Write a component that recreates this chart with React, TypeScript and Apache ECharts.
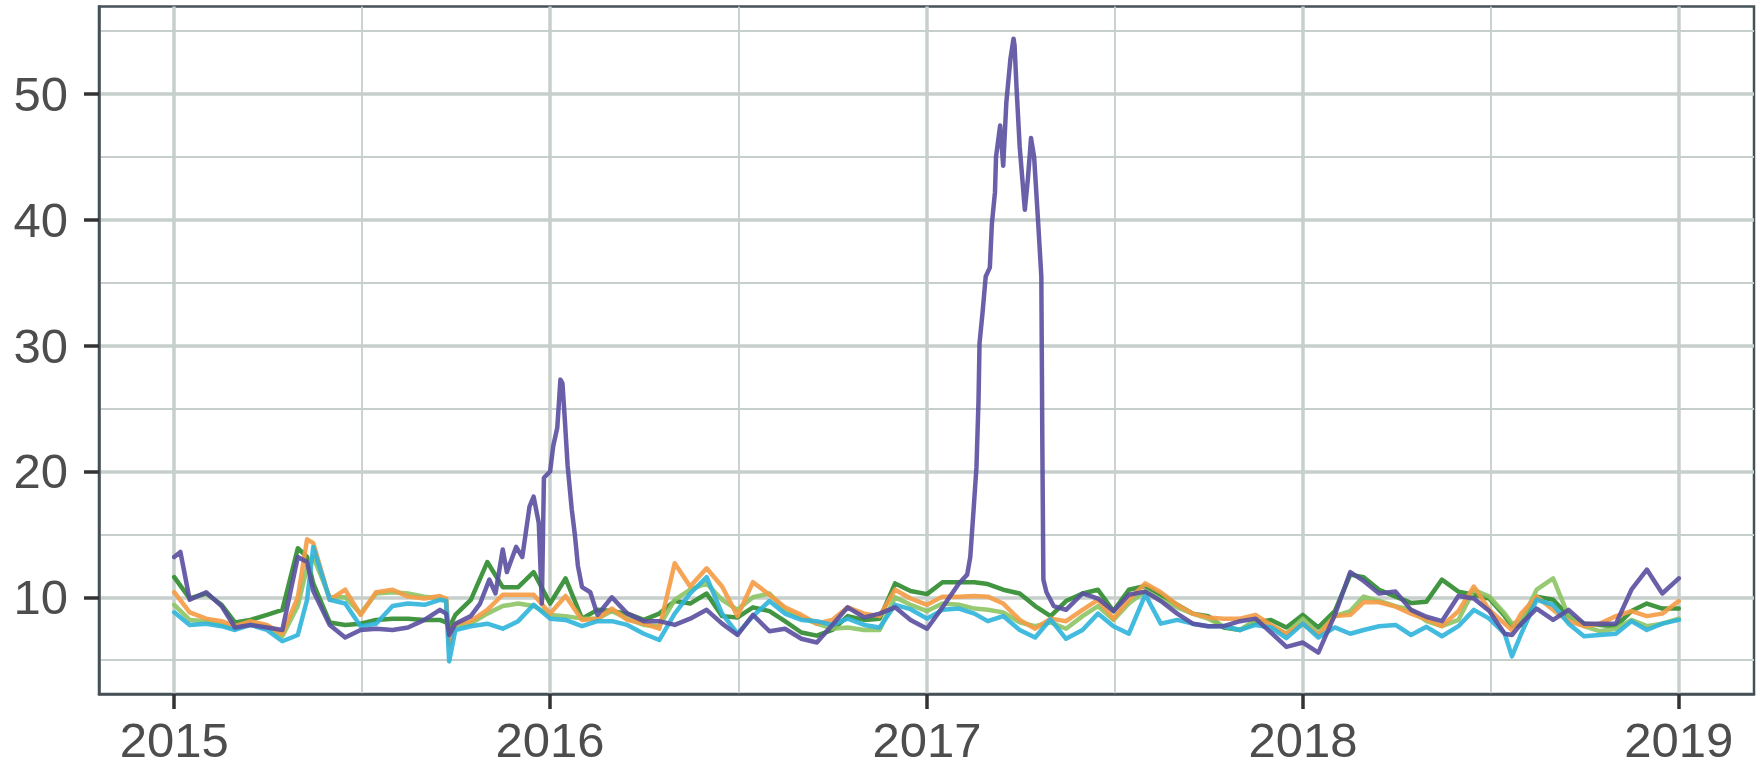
import React, { useEffect, useRef } from "react";
import * as echarts from "echarts";

// ---- data -------------------------------------------------------------
const dates = [
  "2015-01-01","2015-01-16","2015-02-01","2015-02-16","2015-03-01","2015-03-16","2015-04-01","2015-04-16",
  "2015-05-01","2015-05-10","2015-05-16","2015-06-01","2015-06-16","2015-07-01","2015-07-16","2015-08-01",
  "2015-08-16","2015-09-01","2015-09-16","2015-09-22","2015-09-25","2015-10-01","2015-10-16","2015-11-01",
  "2015-11-16","2015-12-01","2015-12-16","2016-01-01","2016-01-16","2016-02-01","2016-02-16","2016-03-01",
  "2016-03-16","2016-04-01","2016-04-16","2016-05-01","2016-05-16","2016-06-01","2016-06-16","2016-07-01",
  "2016-07-16","2016-08-01","2016-08-16","2016-09-01","2016-09-16","2016-10-01","2016-10-16","2016-11-01",
  "2016-11-16","2016-12-01","2016-12-16","2017-01-01","2017-01-16","2017-02-01","2017-02-16","2017-03-01",
  "2017-03-16","2017-04-01","2017-04-16","2017-05-01","2017-05-16","2017-06-01","2017-06-16","2017-07-01",
  "2017-07-16","2017-08-01","2017-08-16","2017-09-01","2017-09-16","2017-10-01","2017-10-16","2017-11-01",
  "2017-11-16","2017-12-01","2017-12-16","2018-01-01","2018-01-16","2018-02-01","2018-02-16","2018-03-01",
  "2018-03-16","2018-04-01","2018-04-16","2018-05-01","2018-05-16","2018-06-01","2018-06-16","2018-07-01",
  "2018-07-16","2018-07-23","2018-08-01","2018-08-16","2018-09-01","2018-09-16","2018-10-01","2018-10-16",
  "2018-11-01","2018-11-16","2018-12-01","2018-12-16","2019-01-01",
];

const darkGreen = [
  11.6, 9.9, 10.3, 9.4, 8.0, 8.2, 8.6, 9.0,
  13.9, 13.2, 11.1, 8.0, 7.8, 7.9, 8.2, 8.3,
  8.3, 8.2, 8.2, 8.0, 7.6, 8.6, 9.8, 12.8,
  10.8, 10.8, 12.0, 9.5, 11.5, 8.3, 9.0, 8.9,
  8.7, 8.2, 8.7, 9.7, 9.5, 10.3, 8.5, 8.4,
  9.2, 8.9, 8.1, 7.2, 6.95, 7.4, 8.5, 8.2,
  8.3, 11.1, 10.5, 10.25, 11.2, 11.2, 11.2, 11.05,
  10.6, 10.3, 9.3, 8.5, 9.7, 10.3, 10.6, 8.9,
  10.6, 10.9, 10.2, 9.4, 8.7, 8.5, 7.6, 7.4,
  8.0, 8.2, 7.6, 8.6, 7.6, 8.9, 11.8, 11.6,
  10.6, 10.05, 9.55, 9.65, 11.4, 10.45, 10.2, 9.9,
  8.5, 7.7, 7.8, 10.05, 9.8, 8.5, 7.9, 7.8,
  7.7, 8.9, 9.5, 9.1, 9.1,
];

const orange = [
  10.4, 8.8, 8.3, 8.1, 7.7, 8.1, 7.8, 7.1,
  10.0, 14.6, 14.3, 9.8, 10.6, 8.6, 10.4, 10.6,
  10.05, 9.9, 10.1, 9.9, 6.2, 7.9, 8.1, 9.0,
  10.2, 10.2, 10.2, 8.7, 10.1, 8.2, 8.3, 9.1,
  8.2, 7.9, 7.5, 12.7, 10.85, 12.3, 10.85, 8.5,
  11.2, 10.2, 9.2, 8.6, 7.9, 8.2, 9.2, 8.7,
  8.5, 10.6, 9.9, 9.4, 10.05, 10.05, 10.1, 10.05,
  9.5, 8.2, 7.5, 8.3, 8.1, 9.0, 9.8, 8.3,
  9.8, 11.1, 10.4, 9.4, 8.7, 8.4, 8.3, 8.3,
  8.6, 7.8, 7.1, 7.9, 7.0, 8.5, 8.6, 9.6,
  9.6, 9.25, 8.7, 8.25, 7.7, 8.9, 10.85, 9.0,
  7.9, 7.4, 8.7, 10.05, 9.0, 8.1, 7.7, 7.9,
  8.5, 8.9, 8.5, 8.7, 9.7,
];

const lightGreen = [
  9.4, 8.2, 8.1, 7.8, 7.5, 7.9, 7.7, 6.9,
  9.3, 12.4, 13.2, 10.0, 10.0, 8.7, 10.3, 10.4,
  10.3, 10.05, 9.9, 9.8, 6.5, 7.8, 7.9, 8.7,
  9.3, 9.5, 9.3, 8.6, 8.5, 8.3, 8.3, 8.9,
  8.3, 7.8, 7.7, 9.8, 10.6, 11.1, 9.8, 9.0,
  10.0, 10.3, 9.0, 8.4, 7.9, 7.5, 7.6, 7.4,
  7.4, 10.0, 9.4, 8.9, 9.5, 9.4, 9.1, 9.0,
  8.8, 8.0, 7.7, 8.0, 7.5, 8.5, 9.3, 8.2,
  9.5, 10.5, 9.8, 9.2, 8.7, 8.3, 7.7, 7.4,
  8.2, 7.7, 7.1, 8.3, 7.1, 8.5, 8.9, 10.05,
  9.7, 9.3, 9.0, 8.1, 7.7, 8.2, 10.6, 10.05,
  8.7, 7.9, 8.1, 10.6, 11.5, 8.5, 7.7, 7.3,
  7.5, 8.2, 7.7, 7.9, 8.3,
];

const cyan = [
  8.8, 7.8, 7.9, 7.7, 7.4, 7.8, 7.4, 6.5,
  7.0, 9.8, 14.0, 9.8, 9.5, 7.7, 7.9, 9.3,
  9.5, 9.4, 9.8, 9.7, 4.9, 7.4, 7.7, 7.9,
  7.5, 8.1, 9.4, 8.3, 8.2, 7.7, 8.1, 8.1,
  7.8, 7.1, 6.6, 8.7, 10.3, 11.6, 8.7, 7.1,
  8.5, 9.7, 8.7, 8.2, 8.1, 7.8, 8.3, 7.8,
  7.6, 9.4, 9.05, 8.3, 9.0, 9.1, 8.7, 8.1,
  8.5, 7.4, 6.8, 8.25, 6.7, 7.4, 8.7, 7.7,
  7.1, 10.2, 7.9, 8.2, 7.9, 7.7, 7.7, 7.4,
  7.8, 7.6, 6.75, 7.9, 6.8, 7.6, 7.1, 7.4,
  7.7, 7.8, 7.0, 7.65, 6.9, 7.7, 9.0, 8.3,
  7.1, 5.3, 7.1, 9.8, 9.4, 7.9, 6.9, 7.0,
  7.1, 8.1, 7.4, 7.9, 8.2,
];

const purpleDates = [
  "2015-01-01","2015-01-07","2015-01-16","2015-02-01","2015-02-16","2015-03-01","2015-03-16","2015-04-01",
  "2015-04-16","2015-05-01","2015-05-10","2015-05-16","2015-06-01","2015-06-16","2015-07-01","2015-07-16",
  "2015-08-01","2015-08-16","2015-09-01","2015-09-16","2015-09-22","2015-09-25","2015-10-01","2015-10-16",
  "2015-10-25","2015-11-03","2015-11-09","2015-11-16","2015-11-20","2015-11-29","2015-12-05","2015-12-12",
  "2015-12-16","2015-12-21","2015-12-24","2015-12-26","2016-01-01","2016-01-04","2016-01-08","2016-01-11",
  "2016-01-13","2016-01-15","2016-01-18","2016-01-22","2016-01-25","2016-01-28","2016-02-01","2016-02-09",
  "2016-02-16","2016-03-01","2016-03-16","2016-04-01","2016-04-16","2016-05-01","2016-05-16","2016-06-01",
  "2016-06-16","2016-07-01","2016-07-16","2016-08-01","2016-08-16","2016-09-01","2016-09-16","2016-10-01",
  "2016-10-16","2016-11-01","2016-11-16","2016-12-01","2016-12-16","2017-01-01","2017-01-16","2017-02-01",
  "2017-02-09","2017-02-12","2017-02-15","2017-02-18","2017-02-20","2017-02-21","2017-02-24","2017-02-27",
  "2017-03-03","2017-03-05","2017-03-08","2017-03-09","2017-03-13","2017-03-16","2017-03-19","2017-03-23",
  "2017-03-26","2017-03-27","2017-03-29","2017-04-01","2017-04-06","2017-04-09","2017-04-12","2017-04-15",
  "2017-04-19","2017-04-22","2017-04-23","2017-04-24","2017-04-27","2017-05-04","2017-05-16","2017-06-01",
  "2017-06-16","2017-07-01","2017-07-16","2017-08-01","2017-08-16","2017-09-01","2017-09-16","2017-10-01",
  "2017-10-16","2017-11-01","2017-11-16","2017-12-01","2017-12-16","2018-01-01","2018-01-16","2018-02-01",
  "2018-02-16","2018-03-01","2018-03-16","2018-04-01","2018-04-16","2018-05-01","2018-05-16","2018-06-01",
  "2018-06-16","2018-07-01","2018-07-16","2018-07-23","2018-08-01","2018-08-16","2018-09-01","2018-09-16",
  "2018-10-01","2018-10-16","2018-11-01","2018-11-16","2018-12-01","2018-12-16","2019-01-01",
];

const purple = [
  13.2, 13.6, 9.8, 10.4, 9.3, 7.6, 7.8, 7.6,
  7.4, 13.2, 12.8, 10.5, 7.8, 6.8, 7.4, 7.5,
  7.4, 7.6, 8.2, 9.0, 8.7, 7.0, 7.9, 8.5,
  9.5, 11.4, 10.3, 13.8, 12.0, 14.0, 13.2, 17.2,
  18.0, 15.9, 9.5, 19.5, 20.0, 22.0, 23.5, 27.3,
  27.0, 24.5, 20.5, 17.0, 15.0, 12.5, 10.8, 10.4,
  8.6, 10.0, 8.7, 8.1, 8.1, 7.8, 8.3, 9.0,
  7.9, 7.0, 8.6, 7.3, 7.5, 6.7, 6.4, 7.8,
  9.2, 8.4, 8.7, 9.2, 8.2, 7.5, 9.2, 11.1,
  11.8, 13.2, 16.7, 20.3, 25.6, 30.2, 32.7, 35.5,
  36.2, 39.7, 42.2, 45.0, 47.5, 44.3, 49.3, 52.8,
  54.4, 53.9, 50.4, 45.8, 40.8, 43.3, 46.5, 45.0,
  39.7, 35.5, 22.0, 11.4, 10.4, 9.3, 9.0, 10.3,
  9.9, 8.9, 10.2, 10.45, 9.7, 8.7, 7.9, 7.7,
  7.7, 8.1, 8.3, 7.2, 6.05, 6.4, 5.6, 8.6,
  12.0, 11.3, 10.3, 10.45, 9.0, 8.45, 8.1, 10.1,
  9.9, 8.9, 7.1, 7.0, 7.9, 9.1, 8.2, 9.0,
  7.9, 7.9, 7.9, 10.6, 12.2, 10.3, 11.5,
];

const yearTicks = ["2015", "2016", "2017", "2018", "2019"];
const yMajorTicks = [10, 20, 30, 40, 50];
const yMinorTicks = [5, 15, 25, 35, 45, 55];

// ---- helpers ----------------------------------------------------------
const toTs = (s: string) => {
  const [y, m, d] = s.split("-").map(Number);
  return Date.UTC(y, m - 1, d);
};

const COLORS = {
  darkGreen: "#2e8b2e",
  lightGreen: "#8cc464",
  orange: "#f59b45",
  cyan: "#2fb4dc",
  purple: "#5a4fa0",
};

const FONT = "'Liberation Sans', Arial, sans-serif";
const GRID_COLOR = "#c6cfcb";
const BORDER_COLOR = "#455157";

export default function App() {
  const ref = useRef<HTMLDivElement>(null);

  useEffect(() => {
    if (!ref.current) return;
    const chart = echarts.init(ref.current, null, { renderer: "svg" });

    const yearTs = yearTicks.map((y) => toTs(`${y}-01-01`));
    const midYearTs = yearTs.slice(0, -1).map((t, i) => (t + yearTs[i + 1]) / 2);
    const span = yearTs[yearTs.length - 1] - yearTs[0];
    const xMin = yearTs[0] - 0.05 * span;
    const xMax = yearTs[yearTs.length - 1] + 0.05 * span;
    const yMin = 2.31;
    const yMax = 56.96;

    const mk = (ds: string[], vs: number[]) => ds.map((d, i) => [toTs(d), vs[i]]);

    const lineSeries = (name: string, color: string, data: any[], z: number) => ({
      name,
      type: "line",
      data,
      showSymbol: false,
      symbol: "none",
      xAxisIndex: 0,
      yAxisIndex: 0,
      z,
      lineStyle: { color, width: 4.5, opacity: 0.9, join: "round", cap: "round" },
      itemStyle: { color },
      emphasis: { disabled: true },
      silent: true,
    });

    const yearLabel = (v: number) => {
      let best = 0;
      for (let i = 1; i < yearTs.length; i++) {
        if (Math.abs(yearTs[i] - v) < Math.abs(yearTs[best] - v)) best = i;
      }
      return yearTicks[best];
    };

    const option: any = {
      animation: false,
      backgroundColor: "#ffffff",
      grid: {
        left: 99,
        top: 6.5,
        width: 1655,
        height: 687.5,
        show: true,
        borderColor: BORDER_COLOR,
        borderWidth: 2.5,
        backgroundColor: "transparent",
        containLabel: false,
      },
      xAxis: [
        {
          type: "value",
          min: xMin,
          max: xMax,
          position: "bottom",
          axisLine: { show: true, lineStyle: { color: BORDER_COLOR, width: 2.5 } },
          axisTick: {
            show: true,
            length: 15,
            customValues: yearTs,
            lineStyle: { color: "#333333", width: 3.5 },
          },
          axisLabel: {
            show: true,
            customValues: yearTs,
            margin: 21,
            fontSize: 49,
            fontFamily: FONT,
            color: "#4d4d4d",
            formatter: yearLabel,
            showMinLabel: true,
            showMaxLabel: true,
          },
          splitLine: { show: true, lineStyle: { color: GRID_COLOR, width: 3.5 } },
        },
        {
          type: "value",
          min: xMin,
          max: xMax,
          position: "bottom",
          axisLine: { show: false },
          axisTick: { show: false, customValues: midYearTs },
          axisLabel: { show: false, customValues: midYearTs },
          splitLine: { show: true, lineStyle: { color: GRID_COLOR, width: 1.8 } },
        },
      ],
      yAxis: [
        {
          type: "value",
          min: yMin,
          max: yMax,
          position: "left",
          axisLine: { show: true, lineStyle: { color: BORDER_COLOR, width: 2.5 } },
          axisTick: {
            show: true,
            length: 15,
            customValues: yMajorTicks,
            lineStyle: { color: "#333333", width: 3.5 },
          },
          axisLabel: {
            show: true,
            customValues: yMajorTicks,
            margin: 31,
            fontSize: 49,
            fontFamily: FONT,
            color: "#4d4d4d",
          },
          splitLine: { show: true, lineStyle: { color: GRID_COLOR, width: 3.5 } },
        },
        {
          type: "value",
          min: yMin,
          max: yMax,
          position: "left",
          axisLine: { show: false },
          axisTick: { show: false, customValues: yMinorTicks },
          axisLabel: { show: false, customValues: yMinorTicks },
          splitLine: { show: true, lineStyle: { color: GRID_COLOR, width: 1.8 } },
        },
      ],
      series: [
        lineSeries("A", COLORS.darkGreen, mk(dates, darkGreen), 3),
        lineSeries("B", COLORS.lightGreen, mk(dates, lightGreen), 4),
        lineSeries("C", COLORS.orange, mk(dates, orange), 5),
        lineSeries("D", COLORS.cyan, mk(dates, cyan), 6),
        lineSeries("E", COLORS.purple, mk(purpleDates, purple), 7),
      ],
    };

    chart.setOption(option);
    return () => {
      chart.dispose();
    };
  }, []);

  return (
    <div
      ref={ref}
      style={{ position: "fixed", left: 0, top: 0, width: 1761, height: 768, background: "#fff" }}
    />
  );
}
